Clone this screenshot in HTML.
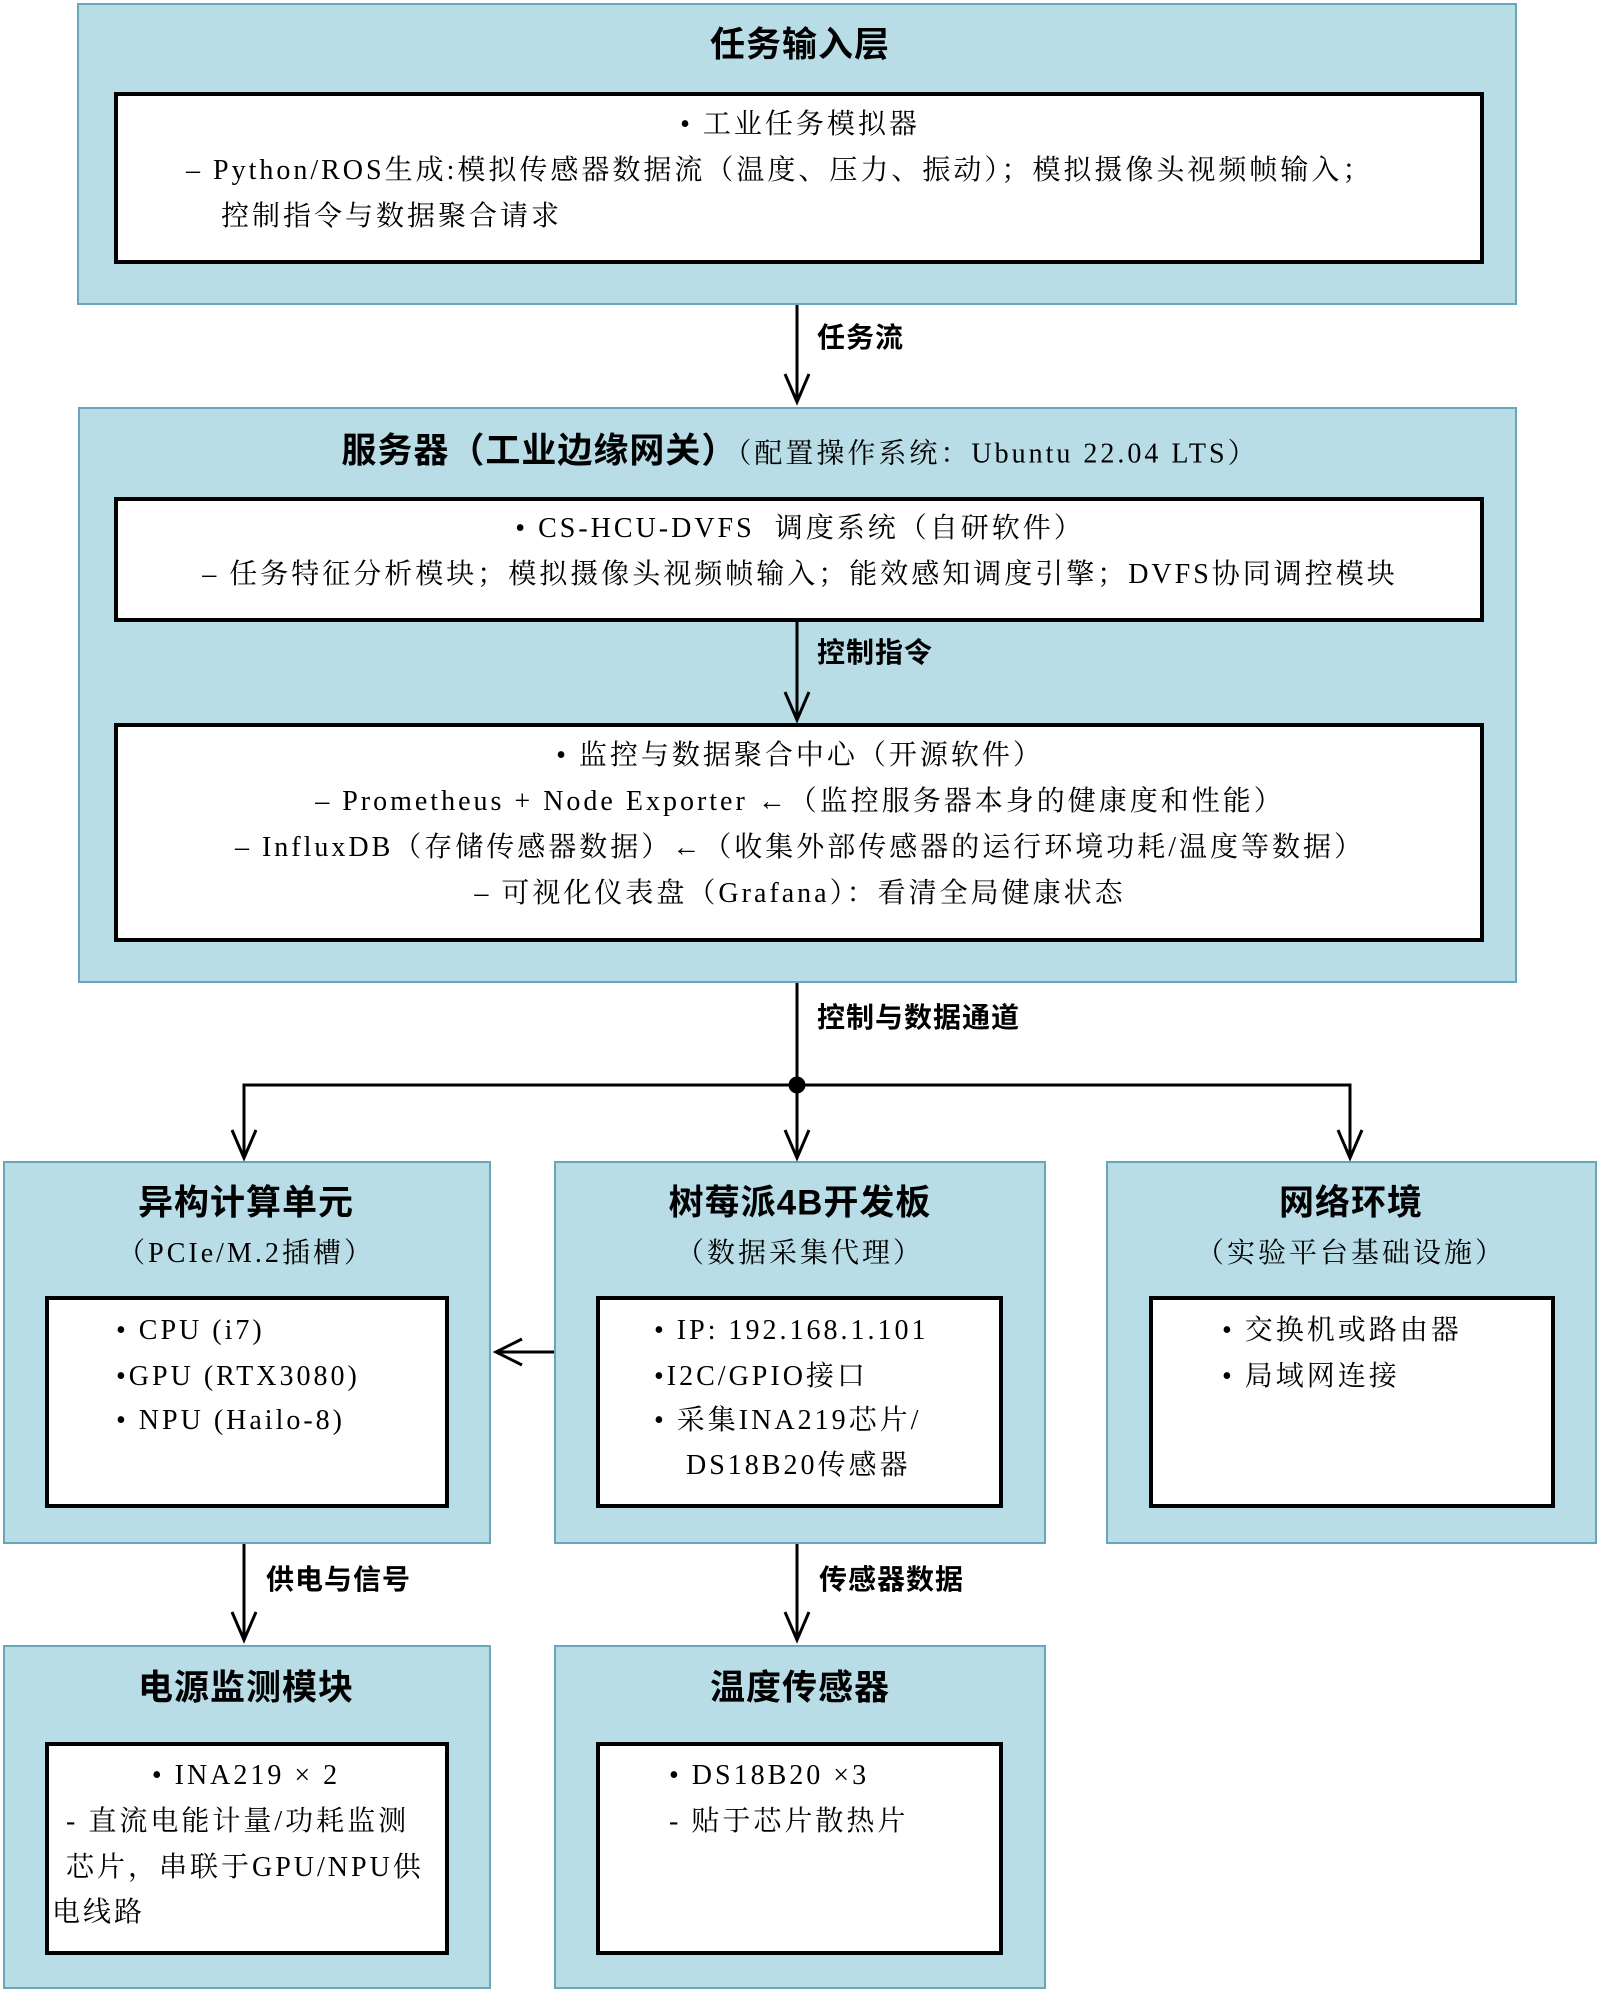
<!DOCTYPE html>
<html><head><meta charset="utf-8"><style>
body{margin:0;width:1600px;height:1993px;background:#fff;position:relative;overflow:hidden;font-family:"Liberation Serif","Noto Serif CJK SC",serif;color:#000}
.o{position:absolute;background:#b8dde7;border:2px solid #6aa6bb;box-sizing:border-box}
.i{position:absolute;background:#fff;border:4px solid #000;box-sizing:border-box}
.t{position:absolute;white-space:nowrap;font-size:28px;letter-spacing:3px;line-height:1;transform:translateY(-50%)}
.c{transform:translate(-50%,-50%)}
.h{font-family:"Liberation Sans","Noto Sans CJK SC",sans-serif;font-weight:bold;font-size:35px;letter-spacing:1px}
.l{font-family:"Liberation Sans","Noto Sans CJK SC",sans-serif;font-weight:bold;font-size:28px;letter-spacing:1px}
</style></head><body>
<div class="o" style="left:77px;top:3px;width:1440px;height:302px"></div>
<div class="i" style="left:114px;top:92px;width:1370px;height:172px"></div>
<div class="t c h" style="left:800px;top:45px">任务输入层</div>
<div class="t c" style="left:800px;top:125px">• 工业任务模拟器</div>
<div class="t" style="left:186px;top:171px">– Python/ROS生成:模拟传感器数据流（温度、压力、振动）；模拟摄像头视频帧输入；</div>
<div class="t" style="left:221px;top:217px">控制指令与数据聚合请求</div>

<div class="o" style="left:78px;top:407px;width:1439px;height:576px"></div>
<div class="i" style="left:114px;top:497px;width:1370px;height:125px"></div>
<div class="i" style="left:114px;top:723px;width:1370px;height:219px"></div>
<div class="t c" style="left:800px;top:451px"><span class="h">服务器（工业边缘网关）</span>（配置操作系统：Ubuntu 22.04 LTS）</div>
<div class="t c" style="left:800px;top:529px">• CS-HCU-DVFS&nbsp; 调度系统（自研软件）</div>
<div class="t c" style="left:800px;top:575px">– 任务特征分析模块；模拟摄像头视频帧输入；能效感知调度引擎；DVFS协同调控模块</div>
<div class="t c" style="left:800px;top:756px">• 监控与数据聚合中心（开源软件）</div>
<div class="t c" style="left:800px;top:802px">– Prometheus + Node Exporter ←（监控服务器本身的健康度和性能）</div>
<div class="t c" style="left:800px;top:848px">– InfluxDB（存储传感器数据）←（收集外部传感器的运行环境功耗/温度等数据）</div>
<div class="t c" style="left:800px;top:894px">– 可视化仪表盘（Grafana）：看清全局健康状态</div>

<div class="o" style="left:3px;top:1161px;width:488px;height:383px"></div>
<div class="o" style="left:554px;top:1161px;width:492px;height:383px"></div>
<div class="o" style="left:1106px;top:1161px;width:491px;height:383px"></div>
<div class="i" style="left:45px;top:1296px;width:404px;height:212px"></div>
<div class="i" style="left:596px;top:1296px;width:407px;height:212px"></div>
<div class="i" style="left:1149px;top:1296px;width:406px;height:212px"></div>
<div class="t c h" style="left:246px;top:1203px">异构计算单元</div>
<div class="t c" style="left:246px;top:1254px">（PCIe/M.2插槽）</div>
<div class="t c h" style="left:800px;top:1203px">树莓派4B开发板</div>
<div class="t c" style="left:800px;top:1254px">（数据采集代理）</div>
<div class="t c h" style="left:1351px;top:1203px">网络环境</div>
<div class="t c" style="left:1351px;top:1254px">（实验平台基础设施）</div>
<div class="t" style="left:116px;top:1331px">• CPU (i7)</div>
<div class="t" style="left:116px;top:1377px">•GPU (RTX3080)</div>
<div class="t" style="left:116px;top:1421px">• NPU (Hailo-8)</div>
<div class="t" style="left:654px;top:1331px">• IP: 192.168.1.101</div>
<div class="t" style="left:654px;top:1377px">•I2C/GPIO接口</div>
<div class="t" style="left:654px;top:1421px">• 采集INA219芯片/</div>
<div class="t" style="left:686px;top:1466px">DS18B20传感器</div>
<div class="t" style="left:1222px;top:1331px">• 交换机或路由器</div>
<div class="t" style="left:1222px;top:1377px">• 局域网连接</div>

<div class="o" style="left:3px;top:1645px;width:488px;height:344px"></div>
<div class="o" style="left:554px;top:1645px;width:492px;height:344px"></div>
<div class="i" style="left:45px;top:1742px;width:404px;height:213px"></div>
<div class="i" style="left:596px;top:1742px;width:407px;height:213px"></div>
<div class="t c h" style="left:246px;top:1688px">电源监测模块</div>
<div class="t c h" style="left:800px;top:1688px">温度传感器</div>
<div class="t c" style="left:246px;top:1776px">• INA219 × 2</div>
<div class="t" style="left:66px;top:1822px">- 直流电能计量/功耗监测</div>
<div class="t" style="left:66px;top:1868px">芯片，串联于GPU/NPU供</div>
<div class="t" style="left:52px;top:1913px">电线路</div>
<div class="t" style="left:669px;top:1776px">• DS18B20 ×3</div>
<div class="t" style="left:669px;top:1822px">- 贴于芯片散热片</div>

<div class="t l" style="left:817px;top:338px">任务流</div>
<div class="t l" style="left:817px;top:653px">控制指令</div>
<div class="t l" style="left:817px;top:1018px">控制与数据通道</div>
<div class="t l" style="left:266px;top:1580px">供电与信号</div>
<div class="t l" style="left:819px;top:1580px">传感器数据</div>

<svg width="1600" height="1993" style="position:absolute;left:0;top:0" fill="none" stroke="#000" stroke-width="3">
<path d="M797 305V402M785 374L797 402L809 374"/>
<path d="M797 622V720M785 692L797 720L809 692"/>
<path d="M797 983V1085M244 1158V1085H1350V1158M785 1130L797 1158L809 1130M797 1085V1158M232 1130L244 1158L256 1130M1338 1130L1350 1158L1362 1130"/>
<circle cx="797" cy="1085" r="7" fill="#000"/>
<path d="M554 1352H496M522 1339L496 1352L522 1365"/>
<path d="M244 1544V1640M232 1612L244 1640L256 1612"/>
<path d="M797 1544V1640M785 1612L797 1640L809 1612"/>
</svg>
</body></html>
